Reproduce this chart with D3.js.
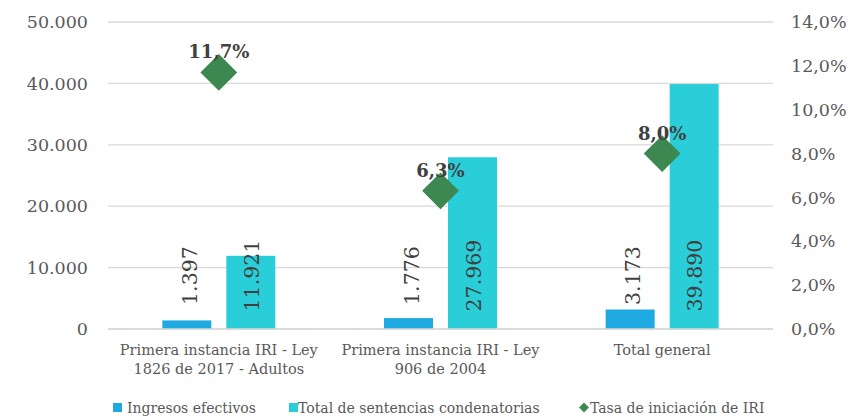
<!DOCTYPE html>
<html><head><meta charset="utf-8">
<script src="https://cdn.jsdelivr.net/npm/d3@7"></script>
<style>body{margin:0;background:#fff;} svg{display:block;}</style>
</head><body>
<svg id="c" width="850" height="417"></svg>
<script>
const categories = [["Primera instancia IRI - Ley","1826 de 2017 - Adultos"],["Primera instancia IRI - Ley","906 de 2004"],["Total general"]];
const ingresos = [1397, 1776, 3173];
const sentencias = [11921, 27969, 39890];
const tasa = [11.7, 6.3, 8.0];
const leftTicks = [0, 10000, 20000, 30000, 40000, 50000];
const rightTicks = [0, 2, 4, 6, 8, 10, 12, 14];
const seriesNames = ["Ingresos efectivos", "Total de sentencias condenatorias", "Tasa de iniciación de IRI"];
const colors = {ing:"#1FA9E1", sen:"#29CED8", tasa:"#3D8751"};

const svg = d3.select("#c");
const FONT = "DejaVu Serif, serif";
const m = {l:108, r:773, t:22, b:329};
const x = d3.scaleBand().domain(d3.range(categories.length)).range([m.l, m.r]);
const yL = d3.scaleLinear().domain([0, 50000]).range([m.b, m.t]);
const yR = d3.scaleLinear().domain([0, 14]).range([m.b, m.t]);
const fmtN = v => d3.format(",")(v).replace(/,/g, ".");
const fmtP = v => d3.format(".1f")(v).replace(".", ",") + "%";

// gridlines
svg.append("g").selectAll("line").data(leftTicks).join("line")
  .attr("x1", m.l).attr("x2", m.r).attr("y1", d => yL(d)).attr("y2", d => yL(d))
  .attr("stroke", "#D9D9D9").attr("stroke-width", 1.3);

// left axis
const gL = svg.append("g").attr("transform", `translate(${m.l-20},0)`)
  .call(d3.axisLeft(yL).tickValues(leftTicks).tickFormat(fmtN).tickSize(0).tickPadding(0));
gL.select(".domain").remove();
gL.selectAll("text").attr("font-family", FONT).attr("font-size", 17.5).attr("fill", "#595959");

// right axis
const gR = svg.append("g").attr("transform", `translate(${m.r+18},0)`)
  .call(d3.axisRight(yR).tickValues(rightTicks).tickFormat(fmtP).tickSize(0).tickPadding(0));
gR.select(".domain").remove();
gR.selectAll("text").attr("font-family", FONT).attr("font-size", 17.5).attr("fill", "#595959");

const bw = 49, off = 32;
const cx = i => x(i) + x.bandwidth()/2;

// bars
svg.append("g").selectAll("rect").data(ingresos).join("rect")
  .attr("x", (d,i) => cx(i) - off - bw/2).attr("width", bw)
  .attr("y", d => yL(d)).attr("height", d => m.b - yL(d)).attr("fill", colors.ing);
svg.append("g").selectAll("rect").data(sentencias).join("rect")
  .attr("x", (d,i) => cx(i) + off - bw/2).attr("width", bw)
  .attr("y", d => yL(d)).attr("height", d => m.b - yL(d)).attr("fill", colors.sen);

// bar labels (rotated)
const lblY = yL(8700);
function barLabels(data, dx){
  svg.append("g").selectAll("text").data(data).join("text")
    .attr("transform", (d,i) => `translate(${cx(i)+dx},${lblY}) rotate(-90)`)
    .attr("text-anchor", "middle").attr("dominant-baseline", "central")
    .attr("font-family", FONT).attr("font-size", 20.5).attr("fill", "#404040")
    .text(d => fmtN(d));
}
barLabels(ingresos, -off+3);
barLabels(sentencias, off+1);

// baseline
svg.append("line").attr("x1", m.l).attr("x2", m.r).attr("y1", m.b).attr("y2", m.b)
  .attr("stroke", "#D9D9D9").attr("stroke-width", 1.5);

// diamonds
const diamond = d3.symbol().type(d3.symbolSquare).size(26*26);
svg.append("g").selectAll("path").data(tasa).join("path")
  .attr("d", diamond)
  .attr("transform", (d,i) => `translate(${cx(i)},${yR(d)}) rotate(45)`)
  .attr("fill", colors.tasa);
svg.append("g").selectAll("text").data(tasa).join("text")
  .attr("x", (d,i) => cx(i)).attr("y", d => yR(d) - 14)
  .attr("text-anchor", "middle")
  .attr("font-family", FONT).attr("font-size", 18).attr("font-weight", "bold").attr("fill", "#404040")
  .text(d => fmtP(d));

// category labels
const cl = svg.append("g");
categories.forEach((lines, i) => {
  lines.forEach((ln, j) => {
    cl.append("text").attr("x", cx(i)).attr("y", 355 + j*19)
      .attr("text-anchor", "middle").attr("font-family", FONT).attr("font-size", 14.5).attr("fill", "#595959")
      .text(ln);
  });
});

// legend
const legend = [
  {name: seriesNames[0], color: colors.ing, shape: "sq", x: 113},
  {name: seriesNames[1], color: colors.sen, shape: "sq", x: 289},
  {name: seriesNames[2], color: colors.tasa, shape: "dia", x: 579}
];
const lg = svg.append("g");
legend.forEach(d => {
  if (d.shape === "sq") {
    lg.append("rect").attr("x", d.x).attr("y", 403).attr("width", 9).attr("height", 9).attr("fill", d.color);
  } else {
    lg.append("path").attr("d", d3.symbol().type(d3.symbolSquare).size(50))
      .attr("transform", `translate(${d.x+5},407.5) rotate(45)`).attr("fill", d.color);
  }
  lg.append("text").attr("x", d.x + (d.shape === "sq" ? (d.x < 200 ? 14 : 9) : 11)).attr("y", 413)
    .attr("font-family", FONT).attr("font-size", 14).attr("fill", "#595959").text(d.name);
});
</script>
</body></html>
